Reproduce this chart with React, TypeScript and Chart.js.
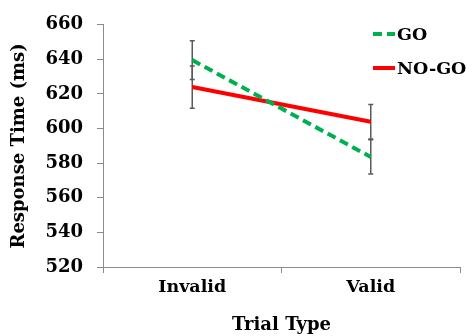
import React, { useEffect, useRef } from "react";
import { Chart, registerables } from "chart.js";

Chart.register(...registerables);

const categories = ["Invalid", "Valid"];
const goValues = [639.6, 583.6];
const goErrors = [11.2, 9.9];
const nogoValues = [624.0, 604.0];
const nogoErrors = [12.2, 10.0];
const yMin = 520;
const yMax = 660;
const yStep = 20;

const FONT = "'DejaVu Serif', 'Liberation Serif', serif";

const errorBarPlugin = {
  id: "errorBars",
  beforeDatasetsDraw(chart: any) {
    const ctx = chart.ctx;
    const yScale = chart.scales.y;
    ctx.save();
    ctx.strokeStyle = "#5a5a5a";
    ctx.lineWidth = 1.5;
    chart.data.datasets.forEach((ds: any, di: number) => {
      const meta = chart.getDatasetMeta(di);
      const errs: number[] = ds.errors || [];
      meta.data.forEach((pt: any, i: number) => {
        const v = ds.data[i];
        const e = errs[i];
        if (e == null) return;
        const x = pt.x;
        const yTop = yScale.getPixelForValue(v + e);
        const yBot = yScale.getPixelForValue(v - e);
        ctx.beginPath();
        ctx.moveTo(x, yTop);
        ctx.lineTo(x, yBot);
        ctx.moveTo(x - 2.5, yTop);
        ctx.lineTo(x + 2.5, yTop);
        ctx.moveTo(x - 2.5, yBot);
        ctx.lineTo(x + 2.5, yBot);
        ctx.stroke();
      });
    });
    ctx.restore();
  },
};

const legendPlugin = {
  id: "customLegend",
  afterDraw(chart: any) {
    const ctx = chart.ctx;
    ctx.save();
    const x0 = 373;
    const x1 = 395;
    const ys = [34, 68];
    chart.data.datasets.forEach((ds: any, i: number) => {
      const y = ys[i];
      ctx.beginPath();
      ctx.strokeStyle = ds.borderColor;
      ctx.lineWidth = 4;
      ctx.setLineDash(ds.borderDash || []);
      ctx.moveTo(x0, y);
      ctx.lineTo(x1, y);
      ctx.stroke();
      ctx.setLineDash([]);
      ctx.fillStyle = "#000";
      ctx.font = `bold 17.5px ${FONT}`;
      ctx.textAlign = "left";
      ctx.textBaseline = "middle";
      ctx.fillText(ds.label, x1 + 2, y + 1);
    });
    ctx.restore();
  },
};

export default function App() {
  const ref = useRef<HTMLCanvasElement>(null);
  useEffect(() => {
    document.body.style.margin = "0";
    const canvas = ref.current!;
    const chart = new Chart(canvas, {
      type: "line",
      data: {
        labels: categories,
        datasets: [
          {
            label: "GO",
            data: goValues,
            errors: goErrors,
            borderColor: "#00b050",
            backgroundColor: "#00b050",
            borderWidth: 4,
            borderDash: [9, 5],
            pointRadius: 0,
            tension: 0,
          } as any,
          {
            label: "NO-GO",
            data: nogoValues,
            errors: nogoErrors,
            borderColor: "#ff0000",
            backgroundColor: "#ff0000",
            borderWidth: 4,
            pointRadius: 0,
            tension: 0,
          } as any,
        ],
      },
      options: {
        animation: false,
        responsive: false,
        maintainAspectRatio: false,
        layout: { padding: { top: 22, right: 9, left: 0, bottom: 0 } },
        plugins: {
          legend: { display: false },
          tooltip: { enabled: false },
        },
        scales: {
          x: {
            type: "category",
            offset: true,
            grid: {
              offset: true,
              drawOnChartArea: false,
              drawTicks: true,
              tickLength: 6,
              color: "#8c8c8c",
            },
            border: { display: true, color: "#8c8c8c", width: 1 },
            ticks: {
              color: "#000",
              font: { family: FONT, size: 17.5, weight: "bold" },
              padding: 4,
              maxRotation: 0,
            },
            title: {
              display: true,
              text: "Trial Type",
              color: "#000",
              font: { family: FONT, size: 18, weight: "bold" },
              padding: { top: 4, bottom: 0 },
            },
            afterFit: (s: any) => {
              s.height = 69;
            },
          },
          y: {
            min: yMin,
            max: yMax,
            ticks: {
              stepSize: yStep,
              color: "#000",
              font: { family: FONT, size: 18, weight: "bold" },
              padding: 14,
            },
            grid: {
              drawOnChartArea: false,
              drawTicks: true,
              tickLength: 6,
              color: "#8c8c8c",
            },
            border: { display: true, color: "#8c8c8c", width: 1 },
            title: {
              display: true,
              text: "Response Time (ms)",
              color: "#000",
              font: { family: FONT, size: 18, weight: "bold" },
              padding: { top: 9, bottom: 0 },
            },
            afterFit: (s: any) => {
              s.width = 103;
            },
          },
        },
      },
      plugins: [errorBarPlugin, legendPlugin],
    } as any);
    return () => chart.destroy();
  }, []);
  return (
    <div style={{ width: 469, height: 336 }}>
      <canvas ref={ref} width={469} height={336} style={{ display: "block" }} />
    </div>
  );
}
